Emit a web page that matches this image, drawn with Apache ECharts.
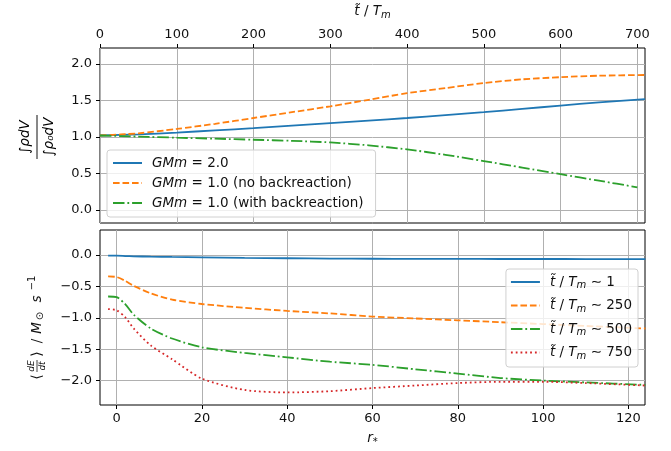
<!DOCTYPE html>
<html>
<head>
<meta charset="utf-8">
<script src="https://cdn.jsdelivr.net/npm/echarts@6/dist/echarts.min.js"></script>
<style>
  html, body { margin: 0; padding: 0; background: #fff; }
  #chart { width: 671px; height: 451px; }
</style>
</head>
<body>
<div id="chart"></div>
<script>
// upper panel: integral ratio against t / T_m
var timeX = [0, 50, 100, 150, 200, 250, 300, 350, 400, 450, 500, 550, 600, 650, 710];
var gmm2 = [1.02, 1.035, 1.06, 1.09, 1.12, 1.155, 1.19, 1.225, 1.26, 1.30, 1.34, 1.385, 1.43, 1.475, 1.52];
var gmm1NoBack = [1.02, 1.05, 1.11, 1.18, 1.26, 1.34, 1.42, 1.51, 1.60, 1.67, 1.74, 1.79, 1.82, 1.84, 1.85];
var timeXBack = [0, 50, 100, 150, 200, 250, 300, 350, 400, 450, 500, 550, 600, 650, 700];
var gmm1Back = [1.02, 1.005, 0.99, 0.976, 0.962, 0.947, 0.925, 0.885, 0.83, 0.755, 0.67, 0.58, 0.49, 0.40, 0.31];

// lower panel: energy flux against r*
var rX = [-2, 0, 2, 4, 8, 13, 20, 30, 40, 50, 60, 70, 80, 90, 100, 110, 124];
var flux1 = [-0.01, -0.01, -0.015, -0.02, -0.025, -0.03, -0.035, -0.045, -0.05, -0.055, -0.058, -0.06, -0.06, -0.062, -0.062, -0.063, -0.065];
var flux250 = [-0.34, -0.35, -0.41, -0.49, -0.61, -0.71, -0.78, -0.84, -0.89, -0.93, -0.98, -1.01, -1.04, -1.07, -1.10, -1.13, -1.17];
var flux500 = [-0.66, -0.67, -0.78, -0.95, -1.17, -1.33, -1.47, -1.56, -1.63, -1.70, -1.75, -1.82, -1.89, -1.96, -2.00, -2.03, -2.07];
var flux750 = [-0.86, -0.88, -0.99, -1.17, -1.44, -1.66, -1.97, -2.15, -2.19, -2.17, -2.12, -2.08, -2.04, -2.02, -2.02, -2.04, -2.08];

// tick labels
var timeTicks = [0, 100, 200, 300, 400, 500, 600, 700];
var ratioTicks = [0, 0.5, 1, 1.5, 2];
var rTicks = [0, 20, 40, 60, 80, 100, 120];
var fluxTicks = [-2, -1.5, -1, -0.5, 0];

var legendText = {
  gmm2: '{i|GMm} = 2.0',
  gmm1no: '{i|GMm} = 1.0 (no backreaction)',
  gmm1with: '{i|GMm} = 1.0 (with backreaction)',
  t1: '{i|t̃} / {i|T}{sub|m} ∼ 1',
  t250: '{i|t̃} / {i|T}{sub|m} ∼ 250',
  t500: '{i|t̃} / {i|T}{sub|m} ∼ 500',
  t750: '{i|t̃} / {i|T}{sub|m} ∼ 750'
};

var FONT = 'DejaVu Sans';
var TXT = '#111';
var FS = 13.5;
var rich = {
  i: { fontFamily: FONT, fontSize: FS, fontStyle: 'italic', color: TXT },
  u: { fontFamily: FONT, fontSize: FS, color: TXT },
  sub: { fontFamily: FONT, fontSize: 10, fontStyle: 'italic', color: TXT, padding: [7, 0, 0, 0] },
  sup: { fontFamily: FONT, fontSize: 10, color: TXT, padding: [0, 0, 8, 0] }
};

function pairs(xs, ys) {
  return xs.map(function (x, i) { return [x, ys[i]]; });
}

function fmt(v) {
  return v.toFixed(1).replace('-', '\u2212');
}

var lw = 1.8;
var dashed = [6.6, 2.9];
var dashdot = [11.5, 2.9, 1.8, 2.9];
var dotted = [1.8, 3];

function line(name, xi, data, color, type) {
  return {
    name: name,
    type: 'line',
    xAxisIndex: xi,
    yAxisIndex: xi,
    data: data,
    symbol: 'none',
    smooth: 0.25,
    silent: true,
    lineStyle: { color: color, width: lw, type: type },
    itemStyle: { color: color }
  };
}

function valueAxis(opts) {
  var base = {
    type: 'value',
    axisLine: { show: false, onZero: false },
    axisTick: { show: true, length: 4, customValues: opts.ticks, lineStyle: { color: '#000', width: 1 } },
    axisLabel: { customValues: opts.ticks, formatter: fmt, fontFamily: FONT, fontSize: 13, color: TXT, margin: 8 },
    splitLine: { show: true, lineStyle: { color: '#b0b0b0', width: 1 } }
  };
  return Object.assign(base, opts.extra);
}

var legendBase = {
  orient: 'vertical',
  backgroundColor: 'rgba(255,255,255,0.8)',
  borderColor: '#d0d0d0',
  borderWidth: 1,
  borderRadius: 3,
  itemWidth: 29,
  itemHeight: 14,
  itemStyle: { color: 'rgba(0,0,0,0)', borderWidth: 0, opacity: 0 },
  textStyle: { fontFamily: FONT, fontSize: FS, color: TXT, padding: [0, 0, 0, 5], rich: rich },
  formatter: function (name) { return legendText[name]; }
};

var option = {
  animation: false,
  backgroundColor: '#fff',
  grid: [
    { left: 100, right: 26, top: 48, height: 175, show: true, borderColor: '#000', borderWidth: 1, backgroundColor: 'transparent' },
    { left: 100, right: 26, top: 230, height: 175, show: true, borderColor: '#000', borderWidth: 1, backgroundColor: 'transparent' }
  ],
  xAxis: [
    valueAxis({
      ticks: timeTicks,
      extra: {
        gridIndex: 0, position: 'top', min: 0, max: 710,
        name: '{i|t̃} / {i|T}{sub|m}', nameLocation: 'middle', nameGap: 28,
        nameTextStyle: { fontFamily: FONT, fontSize: FS, color: TXT, rich: rich },
        axisLabel: { customValues: timeTicks, fontFamily: FONT, fontSize: 13, color: TXT, margin: 7 }
      }
    }),
    valueAxis({
      ticks: rTicks,
      extra: {
        gridIndex: 1, position: 'bottom', min: -3.9, max: 123.9,
        name: '{i|r}{sub|*}', nameLocation: 'middle', nameGap: 25,
        nameTextStyle: { fontFamily: FONT, fontSize: FS, color: TXT, rich: rich },
        axisLabel: { customValues: rTicks, fontFamily: FONT, fontSize: 13, color: TXT, margin: 7 }
      }
    })
  ],
  yAxis: [
    valueAxis({ ticks: ratioTicks, extra: { gridIndex: 0, min: -0.18, max: 2.22 } }),
    valueAxis({ ticks: fluxTicks, extra: { gridIndex: 1, min: -2.39, max: 0.40 } })
  ],
  legend: [
    Object.assign({}, legendBase, {
      data: ['gmm2', 'gmm1no', 'gmm1with'],
      left: 107, top: 150, itemGap: 6, padding: [6, 12, 7, 5]
    }),
    Object.assign({}, legendBase, {
      data: ['t1', 't250', 't500', 't750'],
      right: 33, top: 269, itemGap: 8, padding: [6, 6, 6, 4]
    })
  ],
  graphic: [
    {
      type: 'group', x: 37, y: 137, rotation: Math.PI / 2,
      children: [
        { type: 'text', x: 0, y: -12, style: { text: '{u|∫}{i|ρdV}', rich: rich, align: 'center', verticalAlign: 'middle' } },
        { type: 'line', shape: { x1: -22, y1: 0, x2: 22, y2: 0 }, style: { stroke: TXT, lineWidth: 1 } },
        { type: 'text', x: 0, y: 12, style: { text: '{u|∫}{i|ρ₀dV}', rich: rich, align: 'center', verticalAlign: 'middle' } }
      ]
    },
    {
      type: 'group', x: 37, y: 324, rotation: Math.PI / 2,
      children: [
        { type: 'text', x: -53, y: 0, style: { text: '⟨', font: '14px "DejaVu Sans"', fill: TXT, align: 'center', verticalAlign: 'middle' } },
        { type: 'text', x: -42, y: -5, style: { text: 'dE', font: 'italic 9px "DejaVu Sans"', fill: TXT, align: 'center', verticalAlign: 'middle' } },
        { type: 'line', shape: { x1: -48, y1: 0, x2: -36, y2: 0 }, style: { stroke: TXT, lineWidth: 0.8 } },
        { type: 'text', x: -42, y: 6, style: { text: 'dt', font: 'italic 9px "DejaVu Sans"', fill: TXT, align: 'center', verticalAlign: 'middle' } },
        { type: 'text', x: -30, y: 0, style: { text: '⟩', font: '14px "DejaVu Sans"', fill: TXT, align: 'center', verticalAlign: 'middle' } },
        { type: 'text', x: -17, y: 0, style: { text: '/', font: '13.5px "DejaVu Sans"', fill: TXT, align: 'center', verticalAlign: 'middle' } },
        { type: 'text', x: -4, y: 0, style: { text: 'M', font: 'italic 13.5px "DejaVu Sans"', fill: TXT, align: 'center', verticalAlign: 'middle' } },
        { type: 'text', x: 8, y: 3, style: { text: '⊙', font: '10px "DejaVu Sans"', fill: TXT, align: 'center', verticalAlign: 'middle' } },
        { type: 'text', x: 25, y: 0, style: { text: 's', font: 'italic 13.5px "DejaVu Sans"', fill: TXT, align: 'center', verticalAlign: 'middle' } },
        { type: 'text', x: 41, y: -5, style: { text: '−1', font: '10px "DejaVu Sans"', fill: TXT, align: 'center', verticalAlign: 'middle' } }
      ]
    }
  ],
  series: [
    line('gmm2', 0, pairs(timeX, gmm2), '#1f77b4', 'solid'),
    line('gmm1no', 0, pairs(timeX, gmm1NoBack), '#ff7f0e', dashed),
    line('gmm1with', 0, pairs(timeXBack, gmm1Back), '#2ca02c', dashdot),
    line('t1', 1, pairs(rX, flux1), '#1f77b4', 'solid'),
    line('t250', 1, pairs(rX, flux250), '#ff7f0e', dashed),
    line('t500', 1, pairs(rX, flux500), '#2ca02c', dashdot),
    line('t750', 1, pairs(rX, flux750), '#d62728', dotted)
  ]
};

var chart = echarts.init(document.getElementById('chart'));
chart.setOption(option);
</script>
</body>
</html>
